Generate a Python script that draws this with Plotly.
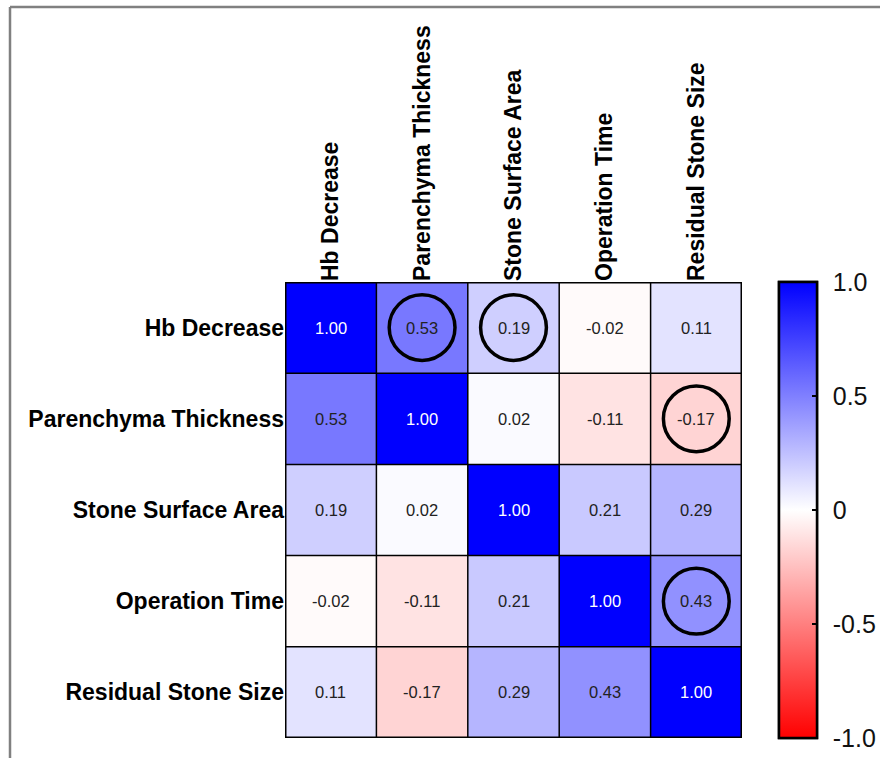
import plotly.graph_objects as go

variables = ["Hb Decrease", "Parenchyma Thickness", "Stone Surface Area",
             "Operation Time", "Residual Stone Size"]
corr = [
    [1.00, 0.53, 0.19, -0.02, 0.11],
    [0.53, 1.00, 0.02, -0.11, -0.17],
    [0.19, 0.02, 1.00, 0.21, 0.29],
    [-0.02, -0.11, 0.21, 1.00, 0.43],
    [0.11, -0.17, 0.29, 0.43, 1.00],
]
circled = [(0, 1), (0, 2), (1, 4), (3, 4)]  # (row, col)
cbar_ticks = [1.0, 0.5, 0, -0.5, -1.0]
cbar_labels = ["1.0", "0.5", "0", "-0.5", "-1.0"]

W, H = 880, 758
L, R, T, B = 285, 138, 282, 20
pw, ph = W - L - R, H - T - B
FONT = "Liberation Sans, Arial, Helvetica"
CSCALE = [[0, "#ff0000"], [0.5, "#ffffff"], [1, "#0000ff"]]

n = len(variables)
fig = go.Figure()
cb_x = (779 - L) / pw
cb_thick = 38
fig.add_trace(go.Heatmap(
    z=corr, x=list(range(n)), y=list(range(n)),
    zmin=-1, zmax=1, colorscale=CSCALE, hoverinfo="skip",
    colorbar=dict(
        x=cb_x, xanchor="left", xpad=0,
        y=0.5, yanchor="middle", len=1, lenmode="fraction", ypad=0,
        thickness=cb_thick, outlinewidth=2.5, outlinecolor="black",
        tickvals=cbar_ticks, ticktext=cbar_labels,
        ticks="outside", ticklen=10, tickwidth=1, tickcolor="rgba(0,0,0,0)",
        tickfont=dict(family=FONT, size=25, color="#111"),
    ),
))
# same data again, only to supply the inner tick marks of the colour bar
fig.add_trace(go.Heatmap(
    z=corr, x=list(range(n)), y=list(range(n)),
    zmin=-1, zmax=1, colorscale=CSCALE, hoverinfo="skip",
    colorbar=dict(
        x=cb_x, xanchor="left", xpad=0,
        y=0.5, yanchor="middle", len=1, lenmode="fraction", ypad=0,
        thickness=cb_thick, outlinewidth=2.5, outlinecolor="black",
        tickvals=cbar_ticks[1:-1], showticklabels=False,
        ticks="inside", ticklen=6, tickwidth=2, tickcolor="black",
    ),
))

shapes = []
# cell grid
for k in range(n + 1):
    w = 3 if k in (0, n) else 1.5
    shapes.append(dict(type="line", xref="x", yref="y", x0=k - 0.5, x1=k - 0.5,
                       y0=-0.5, y1=n - 0.5, line=dict(color="black", width=w)))
    shapes.append(dict(type="line", xref="x", yref="y", y0=k - 0.5, y1=k - 0.5,
                       x0=-0.5, x1=n - 0.5, line=dict(color="black", width=w)))
# circles
rad = 0.36
for (r, c) in circled:
    shapes.append(dict(type="circle", xref="x", yref="y",
                       x0=c - rad, x1=c + rad, y0=r - rad, y1=r + rad,
                       line=dict(color="black", width=3.5)))
# outer frame (left and top)
fx = (10 - L) / pw
fy = (H - B - 7) / ph
shapes.append(dict(type="line", xref="paper", yref="paper", x0=fx, x1=(W - L) / pw + 0.01,
                   y0=fy, y1=fy, line=dict(color="#808080", width=2.5)))
shapes.append(dict(type="line", xref="paper", yref="paper", x0=fx, x1=fx,
                   y0=fy, y1=-B / ph - 0.01, line=dict(color="#808080", width=2.5)))

annotations = []
for r in range(n):
    for c in range(n):
        v = corr[r][c]
        annotations.append(dict(
            x=c, y=r, xref="x", yref="y", text=f"{v:.2f}", showarrow=False,
            font=dict(family=FONT, size=16.5,
                      color="white" if v >= 0.9 else "#222"),
        ))

fig.update_layout(
    width=W, height=H,
    margin=dict(l=L, r=R, t=T, b=B, autoexpand=False),
    paper_bgcolor="white", plot_bgcolor="white",
    shapes=shapes, annotations=annotations,
    xaxis=dict(side="top", tickvals=list(range(n)), ticktext=variables,
               tickangle=-90, showgrid=False, zeroline=False, ticks="",
               range=[-0.5, n - 0.5], automargin=False,
               tickfont=dict(family=FONT, size=23, color="black", weight="bold")),
    yaxis=dict(tickvals=list(range(n)), ticktext=variables, autorange=False,
               range=[n - 0.5, -0.5], showgrid=False, zeroline=False, ticks="",
               automargin=False,
               tickfont=dict(family=FONT, size=23, color="black", weight="bold")),
    showlegend=False,
)

fig.write_html("out.html", config={"displayModeBar": False},
               post_script="document.body.style.margin='0px';")
